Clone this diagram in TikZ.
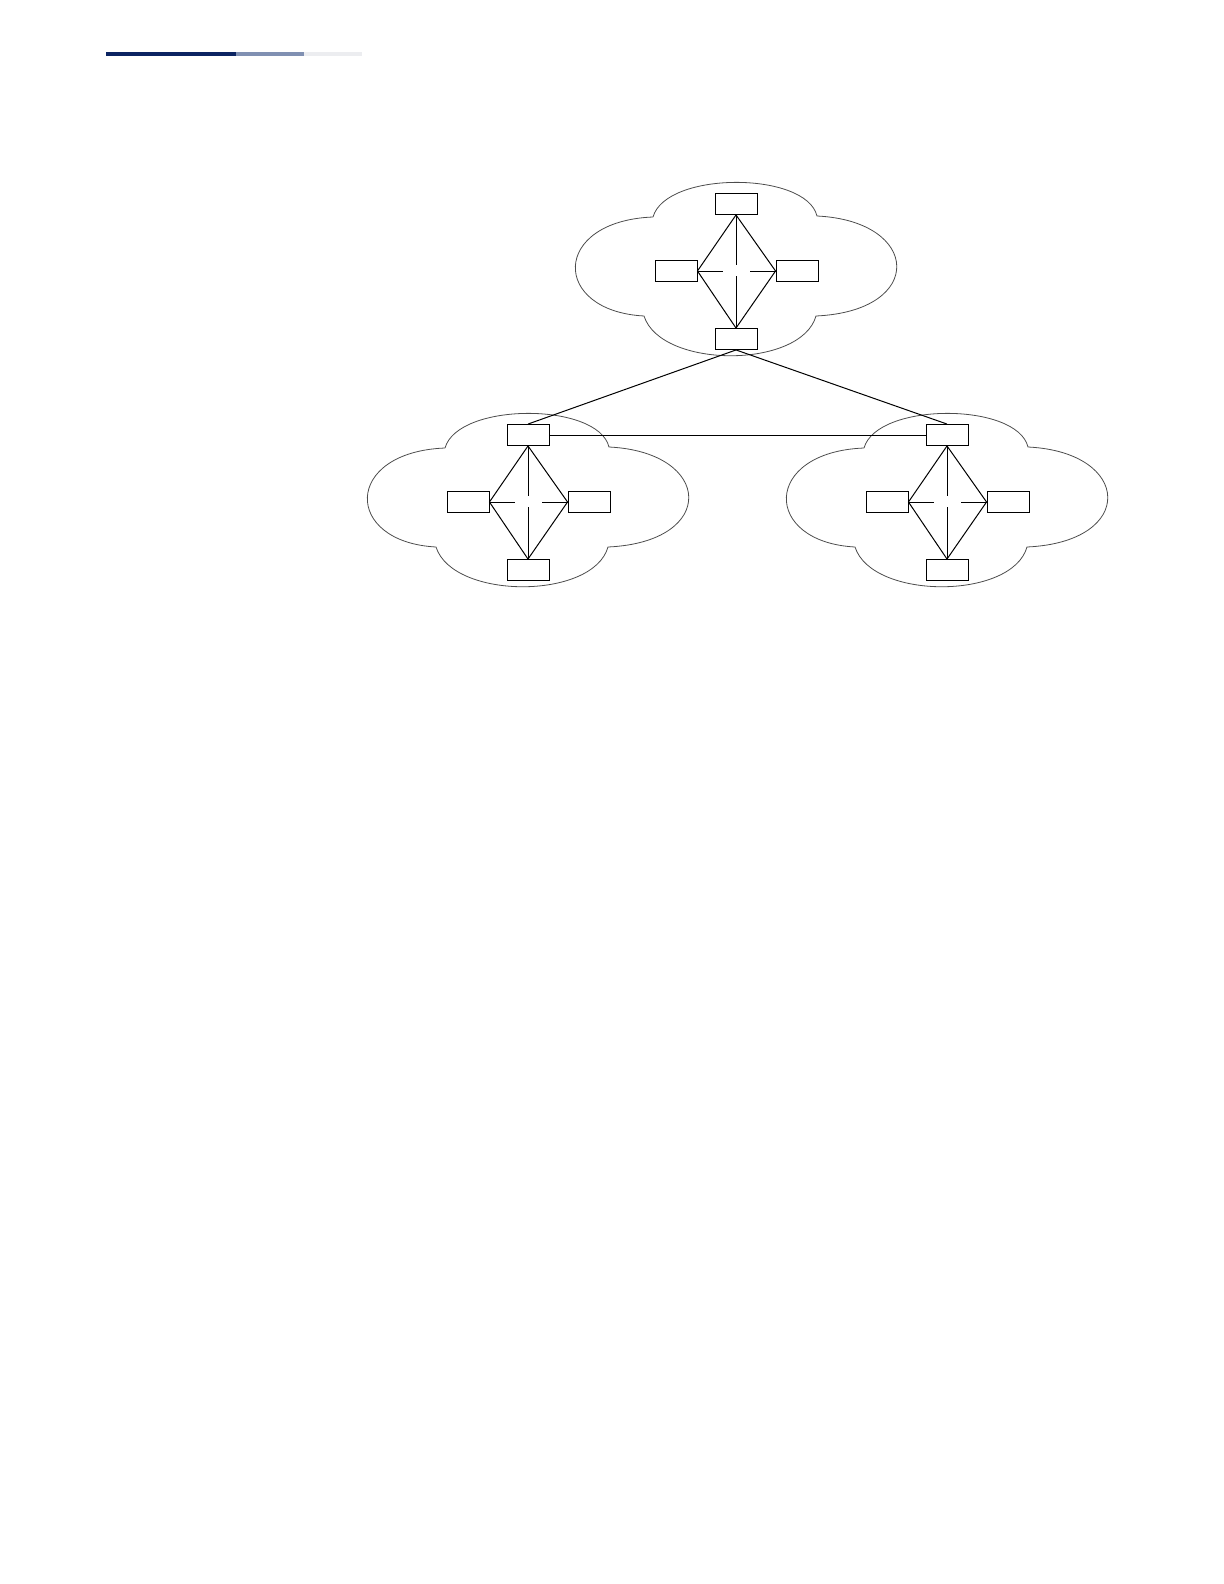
\documentclass[tikz,border=0pt]{standalone}
\definecolor{barnavy}{RGB}{12,36,98}
\definecolor{barmid}{RGB}{128,144,178}
\definecolor{barlight}{RGB}{236,237,240}
\begin{document}
\begin{tikzpicture}[x=0.5pt,y=-0.5pt,
    sw/.style={draw,line width=0.45pt,minimum width=21pt,minimum height=10.5pt,inner sep=0pt},
    link/.style={line width=0.5pt},
    cloudline/.style={line width=0.4pt,black!70}]
    \useasboundingbox (0,0) rectangle (1224,1584);
    % page rule
    \fill[barnavy] (106,52) rectangle (236,56);
    \fill[barmid] (236,52) rectangle (304,56);
    \fill[barlight] (304,52) rectangle (362,56);
    % three clouds
    \foreach \n/\cx/\cy in {a/736/271,b/528/502,c/947/502}
        {
            \begin{scope}[shift={(\cx,\cy)}]
                \draw[cloudline] (-83,-54) .. controls (-70,-100) and (70,-100) .. (81,-55)
                    .. controls (185,-50) and (190,40) .. (80,45)
                    .. controls (65,98) and (-75,98) .. (-92,45)
                    .. controls (-185,40) and (-185,-50) .. (-83,-54);
                \node[sw] (\n-t) at (0,-67) {};
                \node[sw] (\n-l) at (-60,0) {};
                \node[sw] (\n-r) at (61,0) {};
                \node[sw] (\n-b) at (0,68) {};
                \coordinate (\n-gu) at (0,-6);
                \coordinate (\n-gd) at (0,5);
                \coordinate (\n-gl) at (-13,0);
                \coordinate (\n-gr) at (14,0);
                \draw[link] (\n-t.south)--(\n-l.east)--(\n-b.north)--(\n-r.west)--cycle;
                \draw[link] (\n-t.south)--(\n-gu);
                \draw[link] (\n-gd)--(\n-b.north);
                \draw[link] (\n-l.east)--(\n-gl);
                \draw[link] (\n-gr)--(\n-r.west);
            \end{scope}
        }
    % links between the clouds
    \draw[link] (a-b.south)--(b-t.north);
    \draw[link] (a-b.south)--(c-t.north);
    \draw[link] (b-t.east)--(c-t.west);
\end{tikzpicture}
\end{document}
